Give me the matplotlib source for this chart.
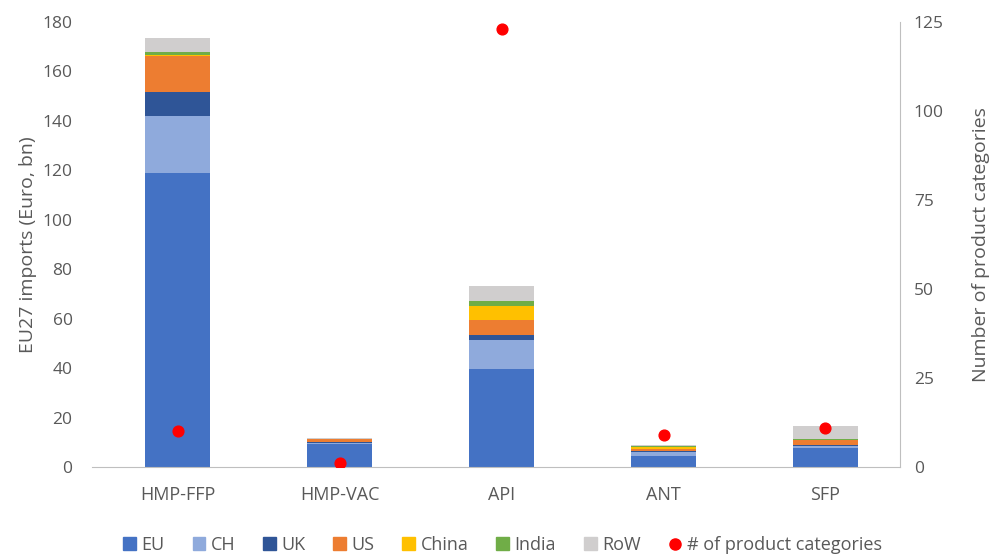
import numpy as np
import matplotlib.pyplot as plt
from matplotlib.lines import Line2D

#----- Data -----
categories = [ "HMP-FFP", "HMP-VAC", "API", "ANT", "SFP" ]
origins = [ "EU", "CH", "UK", "US", "China", "India", "RoW" ]

eu    = [ 119.0, 9.5, 39.5, 4.5, 7.5 ]
ch    = [ 23.0, 0.2, 12.0, 1.5, 1.0 ]
uk    = [ 9.5, 0.3, 2.0, 0.5, 0.4 ]
us    = [ 14.5, 1.5, 6.0, 0.7, 2.0 ]
china = [ 0.5, 0.0, 5.7, 1.0, 0.2 ]
india = [ 1.2, 0.0, 2.0, 0.3, 0.2 ]
row   = [ 5.8, 0.3, 6.0, 0.5, 5.3 ]

n_categories = [ 10, 1, 123, 9, 11 ]

#----- Styles -----
colours = [ "#4472C4", "#8FAADC", "#2F5597", "#ED7D31", "#FFC000", "#70AD47", "#D0CECE" ]
text_col = "#595959"
axis_col = "#BFBFBF"

plt.rcParams.update({ "font.family": ["Open Sans", "DejaVu Sans"], "font.size": 12 })

fig = plt.figure( figsize=(9.95, 5.6), dpi=100 )
ax = fig.add_axes( [0.0925, 0.166, 0.812, 0.795] )
ax2 = ax.twinx()

x = np.arange(len( categories ))
series = [ eu, ch, uk, us, china, india, row ]
bottom = np.zeros(len( categories ))
for vals, col, lab in zip( series, colours, origins ):
	ax.bar( x, vals, width=0.4, bottom=bottom, color=col, label=lab, zorder=2 )
	bottom += np.array( vals )

ax2.scatter( x, n_categories, s=60, color="#FF0000", zorder=5, label="# of product categories" )

#----- Axes -----
ax.set_xlim( -0.53, 4.46 )
ax.set_ylim( 0, 180 )
ax.set_yticks( range(0, 181, 20) )
ax2.set_ylim( 0, 125 )
ax2.set_yticks( range(0, 126, 25) )
ax.set_xticks( x )
ax.set_xticklabels( categories )

ax.set_ylabel( "EU27 imports (Euro, bn)", color=text_col, fontsize=14, labelpad=4 )
ax2.set_ylabel( "Number of product categories", color=text_col, fontsize=14, labelpad=20 )

for a in ( ax, ax2 ):
	for s in a.spines.values():
		s.set_visible( False )
	a.tick_params( colors=text_col, length=0, labelsize=12.5 )
ax.tick_params( axis="x", pad=14, labelsize=13 )
ax.tick_params( axis="y", pad=14 )
ax2.tick_params( axis="y", pad=10 )
ax.spines["bottom"].set_visible( True )
ax.spines["bottom"].set_color( axis_col )
ax2.spines["right"].set_visible( True )
ax2.spines["right"].set_color( axis_col )

#----- Legend -----
handles = [ plt.Rectangle( (0,0), 1, 1, color=c ) for c in colours ]
handles.append( Line2D( [], [], marker="o", ls="", color="#FF0000", markersize=8 ) )
labels = origins + [ "# of product categories" ]
leg = fig.legend( handles, labels, loc="center", bbox_to_anchor=(0.505, 0.027), ncol=8,
	frameon=False, handlelength=0.7, handleheight=0.7, handletextpad=0.3, columnspacing=1.55, fontsize=13 )
for t in leg.get_texts():
	t.set_color( text_col )

plt.savefig( "out.png", dpi=100 )
plt.close()
